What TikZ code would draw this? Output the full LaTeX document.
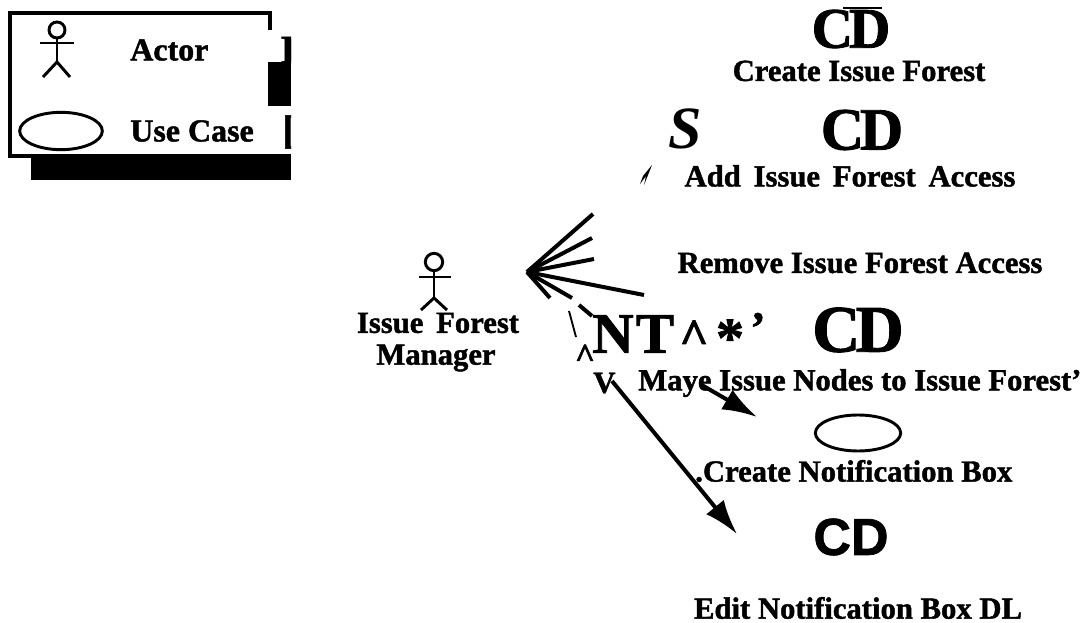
\documentclass[tikz,border=0pt]{standalone}
\usepackage{fontspec}
\setmainfont[BoldFeatures={FakeBold=1.4}]{Liberation Serif}
\newfontfamily\headsans[BoldFeatures={FakeBold=1.4}]{Liberation Sans}
\usetikzlibrary{arrows.meta,shapes.geometric}

\newcommand{\bfsize}[1]{\fontsize{#1}{#1}\selectfont\bfseries}
\newcommand{\tightCD}{C\kern-.07em D}

\begin{document}
\begin{tikzpicture}[x=0.75pt, y=-0.75pt, >={Latex[length=26pt,width=17pt]},
	caption/.style={inner sep=0pt, font=\bfsize{23}},
	bigtext/.style={inner sep=0pt, font=\bfsize{44}},
	rim/.style={line width=2.5pt},
	spoke/.style={line width=3pt},
	stick/.style={line width=2.2pt},
	head/.style={draw, circle, line width=2.2pt, inner sep=0pt, minimum size=12pt},
	usecase/.style={draw, ellipse, line width=2.2pt, inner sep=0pt, minimum width=62pt, minimum height=28pt}]
	\useasboundingbox (0,0) rectangle (1082,623);

	% Legend frame
	\coordinate (frameA) at (270,30);
	\coordinate (frameB) at (270,13);
	\coordinate (frameC) at (10,13);
	\coordinate (frameD) at (10,156);
	\coordinate (frameE) at (291,156);
	\draw[rim] (frameA) -- (frameB) -- (frameC) -- (frameD) -- (frameE);
	\fill (31,157) rectangle (291,180);
	\fill (268,62) rectangle (291,106);
	\begin{scope}
		\clip (0,0) rectangle (291,180);
		\node[caption, font=\bfsize{30}] (cutI) at (288,50) {I};
		\node[caption, font=\bfsize{30}] (cutB) at (289,132) {[};
	\end{scope}

	% Legend actor
	\node[head] (keyhead) at (57,30) {};
	\coordinate (keyhip) at (57,62);
	\coordinate (keyhandL) at (40,43);
	\coordinate (keyhandR) at (74,43);
	\coordinate (keyfootL) at (43,77);
	\coordinate (keyfootR) at (70,77);
	\draw[stick] (keyhead) -- (keyhip);
	\draw[stick] (keyhandL) -- (keyhandR);
	\draw[stick] (keyfootL) -- (keyhip) -- (keyfootR);
	\node[caption, font=\bfsize{24}, anchor=west] (keyactor) at (130,50) {Actor};

	% Legend use case
	\node[usecase] (keycase) at (61,131) {};
	\node[caption, font=\bfsize{24}, anchor=west] (keyname) at (130,131) {Use Case};

	% Manager
	\node[head, minimum size=13pt] (head) at (434,262) {};
	\coordinate (hip) at (434,298);
	\coordinate (handL) at (419,277);
	\coordinate (handR) at (451,277);
	\coordinate (footL) at (421,310);
	\coordinate (footR) at (447,310);
	\draw[stick] (head) -- (hip);
	\draw[stick] (handL) -- (handR);
	\draw[stick] (footL) -- (hip) -- (footR);
	\node[caption] (issue) at (438,323) {Issue\, Forest};
	\node[caption] (manager) at (436,358) {Manager};

	% Spokes
	\coordinate (hub) at (527,272);
	\foreach \x/\y in {593/214, 592/238, 594/259, 644/295, 550/298, 572/298}
		\draw[spoke] (hub) -- (\x,\y);
	\coordinate (dashA) at (579,305);
	\coordinate (dashB) at (592,316);
	\coordinate (dashC) at (569,311);
	\coordinate (dashD) at (576,337);
	\draw[spoke] (dashA) -- (dashB);
	\draw[line width=1.4pt] (dashC) -- (dashD);

	% Arrows
	\coordinate (startA) at (700,384);
	\coordinate (tipA) at (757,417);
	\coordinate (startB) at (612,381);
	\coordinate (tipB) at (737,534);
	\draw[spoke, ->] (startA) -- (tipA);
	\draw[spoke, ->] (startB) -- (tipB);

	% Use cases
	\node[bigtext, font=\bfsize{43}] (cdA) at (851,29) {\tightCD};
	\coordinate (barL) at (843,8);
	\coordinate (barR) at (882,8);
	\draw[line width=1pt] (barL) -- (barR);
	\node[caption] (create) at (859,71) {Create Issue Forest};

	\node[bigtext, font=\bfsize{45}\itshape] (glyphS) at (685,129) {S};
	\node[bigtext, font=\bfsize{45}] (cdB) at (862,130) {\tightCD};
	\fill (652,165) -- (643,176) -- (640,184) -- (646,176) -- (644,185) -- cycle;
	\node[caption] (add) at (850,176) {Add\, Issue\, Forest\, Access};

	\node[caption] (remove) at (860,263) {Remove Issue Forest Access};

	\node[bigtext, font=\bfsize{43}, anchor=west] (glyphN) at (592,334) {N\kern.04em T};
	\node[caption, font=\bfsize{38}] (glyphC) at (694,337) {\^{}};
	\node[caption, font=\bfsize{42}] (glyphD) at (730,338) {*};
	\node[caption, font=\bfsize{34}] (glyphE) at (758,328) {\symbol{39}};
	\node[bigtext, font=\bfsize{50}] (cdC) at (858,330) {\tightCD};
	\node[caption, font=\bfsize{26}] (glyphF) at (585,356) {\^{}};
	\node[caption, anchor=west] (glyphV) at (593,383) {V};
	\node[caption, anchor=west] (move) at (638,383) {Maye Issue Nodes to Issue Forest'};

	\node[usecase, minimum width=64pt, minimum height=27pt] (notify) at (858,433) {};
	\node[caption, anchor=west] (boxA) at (695,471) {.Create Notification Box};

	\node[bigtext, font=\headsans\bfsize{39}] (cdD) at (851,537) {CD};
	\node[caption] (boxB) at (858,608) {Edit Notification Box DL};
\end{tikzpicture}
\end{document}
